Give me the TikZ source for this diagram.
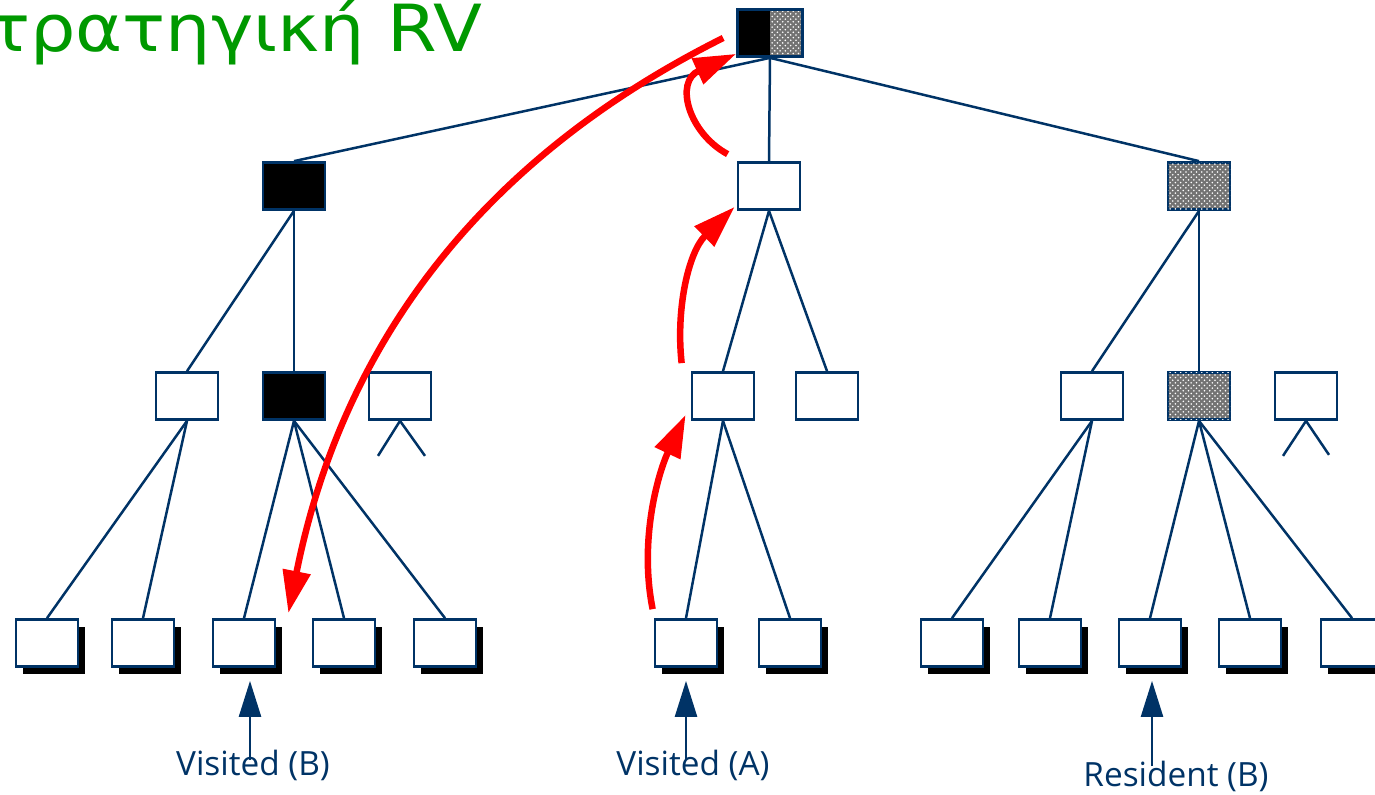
\documentclass[tikz,border=0pt]{standalone}
\usepackage{fontspec}
\setmainfont{Open Sans}
\newfontfamily\titlefont[FakeStretch=1.1]{DejaVu Sans}
\usetikzlibrary{patterns,arrows.meta,calc,shadows}
\definecolor{navy}{HTML}{003366}
\definecolor{grn}{HTML}{009900}
\tikzset{
  box/.style={rectangle,draw=navy,line width=0.055cm,minimum width=1.24cm,minimum height=0.94cm,inner sep=0pt,fill=white},
  full/.style={box,fill=black},
  hatch/.style={box,fill=black!55,postaction={pattern=crosshatch dots,pattern color=white}},
  leaf/.style={box,drop shadow={shadow xshift=0.14cm,shadow yshift=-0.14cm,fill=black,opacity=1}},
  edge/.style={navy,line width=0.05cm},
  move/.style={red,line width=0.13cm,-{Triangle[length=0.85cm,width=0.54cm]}},
  lbl/.style={navy,inner sep=0pt,font=\fontsize{19}{21}\selectfont},
  lblarrow/.style={navy,line width=0.05cm,-{Triangle[length=0.72cm,width=0.44cm]}},
}
\begin{document}
\begin{tikzpicture}[x=0.02cm,y=-0.02cm]
  \useasboundingbox (0,0) rectangle (1375,794);
  \node[anchor=base east,inner sep=0pt,text=grn,font=\titlefont\fontsize{37}{40}\selectfont] (title) at (483,52) {Στρατηγική RV};
  % root, half black half hatched
  \node[box,minimum width=1.3cm,path picture={
      \fill[black] (path picture bounding box.south west) rectangle (path picture bounding box.north);
      \fill[black!55] (path picture bounding box.south) rectangle (path picture bounding box.north east);
      \fill[pattern=crosshatch dots,pattern color=white] (path picture bounding box.south) rectangle (path picture bounding box.north east);
    }] (root) at (770,33) {};
  \node[full]  (l1a) at (294,186) {};
  \node[box]   (l1b) at (769,186) {};
  \node[hatch] (l1c) at (1199,186) {};
  \node[box]   (l2a) at (187,396) {};
  \node[full]  (l2b) at (294,396) {};
  \node[box]   (l2c) at (400,396) {};
  \node[box]   (l2d) at (723,396) {};
  \node[box]   (l2e) at (827,396) {};
  \node[box]   (l2f) at (1092,396) {};
  \node[hatch] (l2g) at (1199,396) {};
  \node[box]   (l2h) at (1306,396) {};
  \foreach \n/\x in {1/47,2/143,3/244,4/344,5/445,6/686,7/790,8/952,9/1050,10/1150,11/1250,12/1352}
    \node[leaf] (lf\n) at (\x,643) {};
  \foreach \p/\c in {root/l1a,root/l1b,root/l1c,l1a/l2a,l1a/l2b,l1b/l2d,l1b/l2e,l1c/l2f,l1c/l2g,
      l2a/lf1,l2a/lf2,l2b/lf3,l2b/lf4,l2b/lf5,l2d/lf6,l2d/lf7,l2f/lf8,l2f/lf9,l2g/lf10,l2g/lf11,l2g/lf12}
    \draw[edge] (\p.south) -- (\c.north);
  \draw[edge] (l2c.south) -- +(-22,35) (l2c.south) -- +(25,35);
  \draw[edge] (l2h.south) -- +(-23,35) (l2h.south) -- +(23,34);
  % red moves
  \draw[move] ($(root.west)+(-13,5)$) .. controls +(-260,130) and +(50,-250) .. ($(lf3.north east)+(12,-5)$);
  \draw[move] ($(l1b.north west)+(-9,-7)$) .. controls +(-39,-21) and +(-62,28) .. ($(root.south west)+(0,-4)$);
  \draw[move] ($(l2d.north west)+(-9,-8)$) .. controls +(-6,-55) and +(-46,45) .. ($(l1b.south west)+(-2,-4)$);
  \draw[move] ($(lf6.north west)+(-1,-9)$) .. controls +(-14,-70) and +(-27,57) .. ($(l2d.south west)+(-5,-6)$);
  % labels
  \node[lbl] (visB) at (253,765) {Visited (B)};
  \node[lbl] (visA) at (693,765) {Visited (A)};
  \node[lbl] (resB) at (1176,776) {Resident (B)};
  \draw[lblarrow] ($(lf3.south |- visB.center)+(6,-5)$) -- ($(lf3.south)+(6,13)$);
  \draw[lblarrow] ($(lf6.south |- visA.center)+(0,-5)$) -- ($(lf6.south)+(0,13)$);
  \draw[lblarrow] ($(lf10.south |- resB.center)+(2,-10)$) -- ($(lf10.south)+(2,13)$);
\end{tikzpicture}
\end{document}
